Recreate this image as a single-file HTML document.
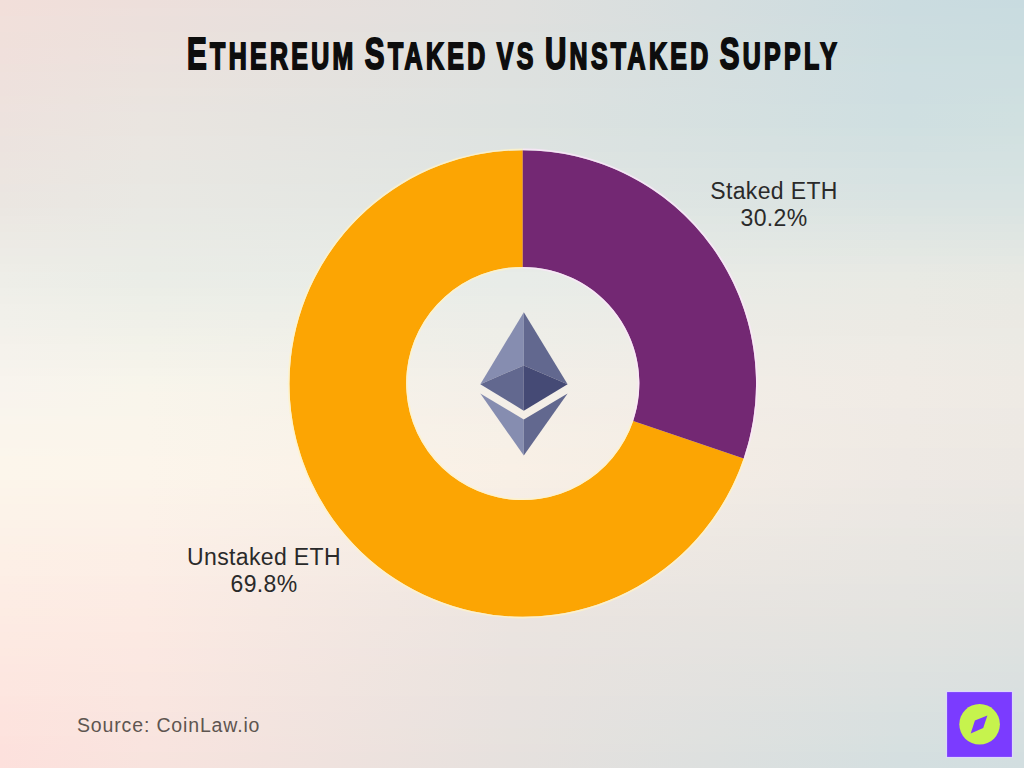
<!DOCTYPE html>
<html>
<head>
<meta charset="utf-8">
<style>
html,body{margin:0;padding:0;}
body{width:1024px;height:768px;overflow:hidden;position:relative;font-family:"Liberation Sans",sans-serif;background:#ebe7e2;}
#bg{position:absolute;left:0;top:0;width:1024px;height:768px;}
#bg div{position:absolute;left:0;width:1024px;height:8px;}
.abs{position:absolute;}
#title{left:0;top:0;width:1024px;height:100px;}
#title .t{position:absolute;left:187px;top:28.5px;transform:scaleX(0.672);word-spacing:-3px;-webkit-text-stroke:2px #0d0d0d;white-space:nowrap;font-weight:bold;color:#0d0d0d;transform-origin:0 0;letter-spacing:5px;}
#title .big{font-size:44px;}
#title .sm{font-size:37px;}
.lbl{position:absolute;font-size:23px;color:#2a2a2a;text-align:center;line-height:27px;letter-spacing:0.35px;white-space:nowrap;}
#src{position:absolute;left:77px;top:714px;font-size:19.5px;color:#5e5550;letter-spacing:0.85px;white-space:nowrap;}
svg{position:absolute;left:0;top:0;}
</style>
</head>
<body>
<div id="bg"><div style="top:0px;background:linear-gradient(to right,#f2dfda 0.00%,#eddfdb 14.16%,#e0e0de 50.00%,#cbdce0 88.38%,#c8dbe0 100.00%)"></div><div style="top:8px;background:linear-gradient(to right,#f2dfda 0.00%,#ede0dc 14.16%,#e0e0de 50.00%,#cbdce0 88.38%,#c9dce0 100.00%)"></div><div style="top:16px;background:linear-gradient(to right,#f1e0db 0.00%,#ece0dc 14.16%,#e0e0de 50.00%,#ccdce0 88.38%,#c9dce0 100.00%)"></div><div style="top:24px;background:linear-gradient(to right,#f1e0db 0.00%,#ece0dc 14.16%,#dfe0de 50.00%,#ccdde0 88.38%,#cadce0 100.00%)"></div><div style="top:32px;background:linear-gradient(to right,#f0e0db 0.00%,#ece1dc 14.16%,#dfe1df 50.00%,#ccdde0 88.38%,#cadce0 100.00%)"></div><div style="top:40px;background:linear-gradient(to right,#f0e0db 0.00%,#ece1dd 14.16%,#dfe1df 50.00%,#ccdde0 88.38%,#cbdde0 100.00%)"></div><div style="top:48px;background:linear-gradient(to right,#f0e0dc 0.00%,#ece2dd 14.16%,#dfe1df 50.00%,#cddde0 88.38%,#cbdde0 100.00%)"></div><div style="top:56px;background:linear-gradient(to right,#f0e0dc 0.00%,#ece2de 14.16%,#dee1df 50.00%,#cddee0 88.38%,#ccdee0 100.00%)"></div><div style="top:64px;background:linear-gradient(to right,#efe1dc 0.00%,#ebe2de 14.16%,#dee1df 50.00%,#cddee1 88.38%,#cddee0 100.00%)"></div><div style="top:72px;background:linear-gradient(to right,#efe1dd 0.00%,#ebe3de 14.16%,#dee1df 50.00%,#cedee1 88.38%,#cddee0 100.00%)"></div><div style="top:80px;background:linear-gradient(to right,#eee1dd 0.00%,#ebe3de 14.16%,#dee1df 50.00%,#cedee1 88.38%,#cedee0 100.00%)"></div><div style="top:88px;background:linear-gradient(to right,#eee1dd 0.00%,#ebe4df 14.16%,#dee2e0 50.00%,#cedee1 88.38%,#cedfe0 100.00%)"></div><div style="top:96px;background:linear-gradient(to right,#eee2dd 0.00%,#eae4df 14.16%,#dee2e0 50.00%,#cedee1 88.38%,#cfdfe0 100.00%)"></div><div style="top:104px;background:linear-gradient(to right,#eee2de 0.00%,#eae4e0 14.16%,#dde2e0 50.00%,#cfdfe1 88.38%,#cfe0e0 100.00%)"></div><div style="top:112px;background:linear-gradient(to right,#ede2de 0.00%,#eae5e0 14.16%,#dde2e0 50.00%,#cfdfe1 88.38%,#d0e0e0 100.00%)"></div><div style="top:120px;background:linear-gradient(to right,#ede2de 0.00%,#eae5e0 14.16%,#dde2e0 50.00%,#cfdfe1 88.38%,#d0e0e0 100.00%)"></div><div style="top:128px;background:linear-gradient(to right,#ede3de 0.00%,#eae5e0 14.16%,#dee3e0 50.00%,#d0e0e1 88.38%,#d1e0e0 100.00%)"></div><div style="top:136px;background:linear-gradient(to right,#ece3df 0.00%,#eae6e1 14.16%,#dee3e1 50.00%,#d2e0e1 88.38%,#d2e1e0 100.00%)"></div><div style="top:144px;background:linear-gradient(to right,#ece3df 0.00%,#eae6e1 14.16%,#dee3e1 50.00%,#d2e0e1 88.38%,#d3e1e1 100.00%)"></div><div style="top:152px;background:linear-gradient(to right,#ece4df 0.00%,#eae6e1 14.16%,#dfe4e1 50.00%,#d4e1e1 88.38%,#d4e1e1 100.00%)"></div><div style="top:160px;background:linear-gradient(to right,#ece4e0 0.00%,#e9e7e2 14.16%,#dfe4e2 50.00%,#d4e1e2 88.38%,#d4e2e1 100.00%)"></div><div style="top:168px;background:linear-gradient(to right,#ece5e0 0.00%,#e9e7e2 14.16%,#e0e5e2 50.00%,#d6e2e2 88.38%,#d5e2e1 100.00%)"></div><div style="top:176px;background:linear-gradient(to right,#ece5e0 0.00%,#e9e7e2 14.16%,#e0e5e2 50.00%,#d6e2e2 88.38%,#d6e2e2 100.00%)"></div><div style="top:184px;background:linear-gradient(to right,#ebe5e1 0.00%,#e9e8e3 14.16%,#e0e5e3 50.00%,#d8e2e2 88.38%,#d7e3e2 100.00%)"></div><div style="top:192px;background:linear-gradient(to right,#ebe6e1 0.00%,#e9e8e3 14.16%,#e1e6e3 50.00%,#d8e3e2 88.38%,#d8e3e2 100.00%)"></div><div style="top:200px;background:linear-gradient(to right,#ebe6e1 0.00%,#e9e8e3 14.16%,#e1e6e3 50.00%,#dae3e2 88.38%,#d9e3e2 100.00%)"></div><div style="top:208px;background:linear-gradient(to right,#ebe7e2 0.00%,#e9e9e4 14.16%,#e2e7e4 50.00%,#dbe4e2 88.38%,#dae4e2 100.00%)"></div><div style="top:216px;background:linear-gradient(to right,#ece8e3 0.00%,#e9e9e4 14.16%,#e3e8e4 50.00%,#dde5e2 88.38%,#dce4e2 100.00%)"></div><div style="top:224px;background:linear-gradient(to right,#ece9e3 0.00%,#e9eae4 14.16%,#e3e8e5 50.00%,#dfe5e3 88.38%,#dee5e2 100.00%)"></div><div style="top:232px;background:linear-gradient(to right,#eceae4 0.00%,#e9eae5 14.16%,#e4e9e5 50.00%,#e0e6e3 88.38%,#dfe6e2 100.00%)"></div><div style="top:240px;background:linear-gradient(to right,#edeae5 0.00%,#eaebe5 14.16%,#e5e9e6 50.00%,#e2e7e3 88.38%,#e1e6e3 100.00%)"></div><div style="top:248px;background:linear-gradient(to right,#edebe6 0.00%,#eaebe6 14.16%,#e6eae6 50.00%,#e3e8e3 88.38%,#e2e7e3 100.00%)"></div><div style="top:256px;background:linear-gradient(to right,#edece6 0.00%,#eaece6 14.16%,#e6eae7 50.00%,#e5e8e4 88.38%,#e4e8e3 100.00%)"></div><div style="top:264px;background:linear-gradient(to right,#eeede7 0.00%,#eaece6 14.16%,#e7ebe7 50.00%,#e7e9e4 88.38%,#e6e8e3 100.00%)"></div><div style="top:272px;background:linear-gradient(to right,#eeeee8 0.00%,#eaede7 14.16%,#e8ece8 50.00%,#e8eae4 88.38%,#e7e9e3 100.00%)"></div><div style="top:280px;background:linear-gradient(to right,#eeeee8 0.00%,#ebede7 14.16%,#e8ece8 50.00%,#e9eae4 88.38%,#e8e9e3 100.00%)"></div><div style="top:288px;background:linear-gradient(to right,#efefe9 0.00%,#eceee7 14.16%,#e9ece8 50.00%,#eaeae4 88.38%,#e9e9e3 100.00%)"></div><div style="top:296px;background:linear-gradient(to right,#f0efe9 0.00%,#edefe8 14.16%,#eaede8 50.00%,#eaeae4 88.38%,#e9e9e3 100.00%)"></div><div style="top:304px;background:linear-gradient(to right,#f1f0ea 0.00%,#eeefe8 14.16%,#ebede8 50.00%,#ebeae4 88.38%,#eae9e3 100.00%)"></div><div style="top:312px;background:linear-gradient(to right,#f1f0ea 0.00%,#eff0e8 14.16%,#ecede8 50.00%,#ebeae4 88.38%,#eae9e3 100.00%)"></div><div style="top:320px;background:linear-gradient(to right,#f2f1eb 0.00%,#f0f0e9 14.16%,#edede8 50.00%,#eceae4 88.38%,#ebe9e3 100.00%)"></div><div style="top:328px;background:linear-gradient(to right,#f3f1eb 0.00%,#f1f1e9 14.16%,#eeeee8 50.00%,#eceae4 88.38%,#ebeae4 100.00%)"></div><div style="top:336px;background:linear-gradient(to right,#f4f1eb 0.00%,#f2f2e9 14.16%,#eeeee8 50.00%,#edebe5 88.38%,#ebeae4 100.00%)"></div><div style="top:344px;background:linear-gradient(to right,#f5f2ec 0.00%,#f3f2ea 14.16%,#efeee8 50.00%,#eeebe5 88.38%,#eceae4 100.00%)"></div><div style="top:352px;background:linear-gradient(to right,#f5f2ec 0.00%,#f4f3ea 14.16%,#f0eee8 50.00%,#eeebe5 88.38%,#eceae4 100.00%)"></div><div style="top:360px;background:linear-gradient(to right,#f6f3ed 0.00%,#f5f3ea 14.16%,#f1eee8 50.00%,#efebe5 88.38%,#edeae4 100.00%)"></div><div style="top:368px;background:linear-gradient(to right,#f7f3ed 0.00%,#f6f4eb 14.16%,#f2efe8 50.00%,#efebe5 88.38%,#edeae4 100.00%)"></div><div style="top:376px;background:linear-gradient(to right,#f8f4ee 0.00%,#f7f5eb 14.16%,#f3efe8 50.00%,#f0ebe5 88.38%,#eeeae4 100.00%)"></div><div style="top:384px;background:linear-gradient(to right,#f8f4ee 0.00%,#f8f5eb 14.16%,#f3efe8 50.00%,#f0ebe5 88.38%,#eeeae4 100.00%)"></div><div style="top:392px;background:linear-gradient(to right,#f9f4ee 0.00%,#f9f5eb 14.16%,#f4efe8 50.00%,#f0ebe5 88.38%,#eeeae4 100.00%)"></div><div style="top:400px;background:linear-gradient(to right,#f9f4ed 0.00%,#f9f5eb 14.16%,#f4efe8 50.00%,#f0ebe5 88.38%,#eeeae4 100.00%)"></div><div style="top:408px;background:linear-gradient(to right,#f9f5ed 0.00%,#f9f5eb 14.16%,#f5efe7 50.00%,#efeae5 88.38%,#ede9e4 100.00%)"></div><div style="top:416px;background:linear-gradient(to right,#faf5ed 0.00%,#faf5eb 14.16%,#f6efe7 50.00%,#efeae5 88.38%,#ede9e4 100.00%)"></div><div style="top:424px;background:linear-gradient(to right,#faf5ec 0.00%,#faf5eb 14.16%,#f6f0e7 50.00%,#efeae4 88.38%,#ede9e3 100.00%)"></div><div style="top:432px;background:linear-gradient(to right,#faf5ec 0.00%,#faf5eb 14.16%,#f7f0e7 50.00%,#efeae4 88.38%,#ede9e3 100.00%)"></div><div style="top:440px;background:linear-gradient(to right,#fbf5ec 0.00%,#fbf5eb 14.16%,#f7f0e7 50.00%,#efeae4 88.38%,#ede9e3 100.00%)"></div><div style="top:448px;background:linear-gradient(to right,#fbf6ec 0.00%,#fbf5eb 14.16%,#f8f0e6 50.00%,#eee9e4 88.38%,#ece8e3 100.00%)"></div><div style="top:456px;background:linear-gradient(to right,#fcf6eb 0.00%,#fcf5eb 14.16%,#f8f0e6 50.00%,#eee9e4 88.38%,#ece8e3 100.00%)"></div><div style="top:464px;background:linear-gradient(to right,#fcf6eb 0.00%,#fcf5eb 14.16%,#f9f0e6 50.00%,#eee9e4 88.38%,#ece8e3 100.00%)"></div><div style="top:472px;background:linear-gradient(to right,#fcf6eb 0.00%,#fcf5eb 14.16%,#f8f0e6 50.00%,#eee9e4 88.38%,#ece8e3 100.00%)"></div><div style="top:480px;background:linear-gradient(to right,#fcf5ea 0.00%,#fcf4ea 14.16%,#f8efe5 50.00%,#ede8e4 88.38%,#ebe7e3 100.00%)"></div><div style="top:488px;background:linear-gradient(to right,#fcf4ea 0.00%,#fcf3ea 14.16%,#f7eee5 50.00%,#ece8e3 88.38%,#eae7e3 100.00%)"></div><div style="top:496px;background:linear-gradient(to right,#fcf4e9 0.00%,#fcf3e9 14.16%,#f6eee5 50.00%,#ece8e3 88.38%,#eae7e2 100.00%)"></div><div style="top:504px;background:linear-gradient(to right,#fcf3e9 0.00%,#fcf2e9 14.16%,#f5ede4 50.00%,#ebe7e3 88.38%,#e9e6e2 100.00%)"></div><div style="top:512px;background:linear-gradient(to right,#fcf3e9 0.00%,#fcf2e9 14.16%,#f5ece4 50.00%,#ebe7e3 88.38%,#e8e6e2 100.00%)"></div><div style="top:520px;background:linear-gradient(to right,#fcf2e8 0.00%,#fcf1e8 14.16%,#f4ece4 50.00%,#eae7e3 88.38%,#e8e6e2 100.00%)"></div><div style="top:528px;background:linear-gradient(to right,#fcf1e8 0.00%,#fcf0e8 14.16%,#f3ebe4 50.00%,#e9e7e2 88.38%,#e7e6e2 100.00%)"></div><div style="top:536px;background:linear-gradient(to right,#fcf1e7 0.00%,#fcf0e7 14.16%,#f2eae3 50.00%,#e9e6e2 88.38%,#e6e5e2 100.00%)"></div><div style="top:544px;background:linear-gradient(to right,#fdf0e7 0.00%,#fcefe7 14.16%,#f2eae3 50.00%,#e8e6e2 88.38%,#e6e5e1 100.00%)"></div><div style="top:552px;background:linear-gradient(to right,#fdf0e6 0.00%,#fcefe6 14.16%,#f1e9e3 50.00%,#e8e6e2 88.38%,#e5e5e1 100.00%)"></div><div style="top:560px;background:linear-gradient(to right,#fdefe6 0.00%,#fceee6 14.16%,#f0e8e2 50.00%,#e7e5e1 88.38%,#e4e4e1 100.00%)"></div><div style="top:568px;background:linear-gradient(to right,#fdefe6 0.00%,#fceee6 14.16%,#efe8e2 50.00%,#e7e5e1 88.38%,#e4e4e1 100.00%)"></div><div style="top:576px;background:linear-gradient(to right,#fdeee5 0.00%,#fcede5 14.16%,#efe7e2 50.00%,#e6e5e1 88.38%,#e3e4e1 100.00%)"></div><div style="top:584px;background:linear-gradient(to right,#fdede5 0.00%,#fcece5 14.16%,#eee7e1 50.00%,#e5e4e1 88.38%,#e3e3e1 100.00%)"></div><div style="top:592px;background:linear-gradient(to right,#fdede4 0.00%,#fcece4 14.16%,#ede6e1 50.00%,#e5e4e1 88.38%,#e2e3e0 100.00%)"></div><div style="top:600px;background:linear-gradient(to right,#fdece4 0.00%,#fcebe4 14.16%,#ece5e1 50.00%,#e4e4e0 88.38%,#e1e3e0 100.00%)"></div><div style="top:608px;background:linear-gradient(to right,#fdece3 0.00%,#fcebe3 14.16%,#ece5e0 50.00%,#e4e3e0 88.38%,#e1e2e0 100.00%)"></div><div style="top:616px;background:linear-gradient(to right,#fdebe3 0.00%,#fceae3 14.16%,#ebe4e0 50.00%,#e3e3e0 88.38%,#e0e2e0 100.00%)"></div><div style="top:624px;background:linear-gradient(to right,#fdeae3 0.00%,#fceae3 14.16%,#ebe4e0 50.00%,#e2e3e0 88.38%,#dfe2e0 100.00%)"></div><div style="top:632px;background:linear-gradient(to right,#fdeae2 0.00%,#fce9e2 14.16%,#eae4e0 50.00%,#e1e3e0 88.38%,#dee2e0 100.00%)"></div><div style="top:640px;background:linear-gradient(to right,#fde9e2 0.00%,#fbe9e2 14.16%,#eae4e0 50.00%,#e1e2e0 88.38%,#dee1e0 100.00%)"></div><div style="top:648px;background:linear-gradient(to right,#fde9e1 0.00%,#fbe8e2 14.16%,#eae3e0 50.00%,#e0e2e0 88.38%,#dde1e0 100.00%)"></div><div style="top:656px;background:linear-gradient(to right,#fde8e1 0.00%,#fbe8e2 14.16%,#eae3df 50.00%,#dfe2e0 88.38%,#dce1e0 100.00%)"></div><div style="top:664px;background:linear-gradient(to right,#fde7e1 0.00%,#fbe8e1 14.16%,#e9e3df 50.00%,#dee2e0 88.38%,#dbe1e0 100.00%)"></div><div style="top:672px;background:linear-gradient(to right,#fde7e0 0.00%,#fae7e1 14.16%,#e9e3df 50.00%,#dde1e0 88.38%,#dbe0e0 100.00%)"></div><div style="top:680px;background:linear-gradient(to right,#fde6e0 0.00%,#fae7e1 14.16%,#e9e3df 50.00%,#dde1e0 88.38%,#dae0e0 100.00%)"></div><div style="top:688px;background:linear-gradient(to right,#fde6e0 0.00%,#fae7e1 14.16%,#e9e3df 50.00%,#dce1e0 88.38%,#d9e0e0 100.00%)"></div><div style="top:696px;background:linear-gradient(to right,#fde5df 0.00%,#fae6e0 14.16%,#e8e2df 50.00%,#dbe1e0 88.38%,#d8e0e0 100.00%)"></div><div style="top:704px;background:linear-gradient(to right,#fde4df 0.00%,#fae6e0 14.16%,#e8e2df 50.00%,#dae1e0 88.38%,#d8e0e0 100.00%)"></div><div style="top:712px;background:linear-gradient(to right,#fde4de 0.00%,#f9e5e0 14.16%,#e8e2df 50.00%,#d9e0e0 88.38%,#d7dfe0 100.00%)"></div><div style="top:720px;background:linear-gradient(to right,#fde3de 0.00%,#f9e5df 14.16%,#e7e2df 50.00%,#d8e0e0 88.38%,#d6dfe0 100.00%)"></div><div style="top:728px;background:linear-gradient(to right,#fde3de 0.00%,#f9e5df 14.16%,#e7e2de 50.00%,#d8e0e0 88.38%,#d5dfe0 100.00%)"></div><div style="top:736px;background:linear-gradient(to right,#fde2dd 0.00%,#f9e4df 14.16%,#e7e2de 50.00%,#d7e0e0 88.38%,#d5dfe0 100.00%)"></div><div style="top:744px;background:linear-gradient(to right,#fde1dd 0.00%,#f9e4df 14.16%,#e7e1de 50.00%,#d6e0e0 88.38%,#d4dfe0 100.00%)"></div><div style="top:752px;background:linear-gradient(to right,#fde1dd 0.00%,#f8e4de 14.16%,#e6e1de 50.00%,#d5dfe0 88.38%,#d3dee0 100.00%)"></div><div style="top:760px;background:linear-gradient(to right,#fde0dc 0.00%,#f8e3de 14.16%,#e6e1de 50.00%,#d4dfe0 88.38%,#d2dee0 100.00%)"></div></div>
<svg width="1024" height="768" viewBox="0 0 1024 768">
  <path d="M 743.71 458.38 A 233.3 233.3 0 1 1 522.75 150.20 L 522.75 266.90 A 116.6 116.6 0 1 0 633.18 420.92 Z" fill="#fca503"/>
  <path d="M 522.75 150.20 A 233.3 233.3 0 0 1 743.71 458.38 L 633.18 420.92 A 116.6 116.6 0 0 0 522.75 266.90 Z" fill="#732873"/>
  <g fill="none" stroke-width="1.6">
  <path d="M 744.47 458.63 A 234.10000000000002 234.10000000000002 0 1 1 522.75 149.40" stroke="#fff2c6" stroke-opacity="0.8"/>
  <path d="M 632.42 420.67 A 115.8 115.8 0 1 1 522.75 267.70" stroke="#fff2c6" stroke-opacity="0.8"/>
  <path d="M 522.75 149.40 A 234.10000000000002 234.10000000000002 0 0 1 744.47 458.63" stroke="#fbe6fa" stroke-opacity="0.8"/>
  <path d="M 522.75 267.70 A 115.8 115.8 0 0 1 632.42 420.67" stroke="#fbe6fa" stroke-opacity="0.8"/>
  </g>
  <!-- ETH logo -->
  <polygon points="523.8,312.3 480.3,384.2 523.8,365.4" fill="#868db0"/>
  <polygon points="523.8,312.3 567.6,384.2 523.8,365.4" fill="#62688f"/>
  <polygon points="480.3,384.2 523.8,365.4 523.8,410.7" fill="#62688f"/>
  <polygon points="567.6,384.2 523.8,365.4 523.8,410.7" fill="#454a75"/>
  <polygon points="480.3,393.5 523.8,419.6 523.8,455.6" fill="#868db0"/>
  <polygon points="567.6,393.5 523.8,419.6 523.8,455.6" fill="#62688f"/>
  <!-- badge -->
  <rect x="946.5" y="691.5" width="66" height="66" fill="#7b3bff" stroke="#ddd6fb" stroke-width="1.2"/>
  <circle cx="979.6" cy="724.3" r="20.3" fill="#c6f34d"/>
  <polygon points="987.4,715.4 983.2,727.9 970.7,733.6 974.9,720.6" fill="#7b3bff"/>
</svg>
<div id="title"><div class="t" id="tt"><span class="big">E</span><span class="sm">THEREUM </span><span class="big">S</span><span class="sm">TAKED VS </span><span class="big">U</span><span class="sm">NSTAKED </span><span class="big">S</span><span class="sm">UPPLY</span></div></div>
<div class="lbl" style="left:674px;top:178px;width:200px;">Staked ETH<br>30.2%</div>
<div class="lbl" style="left:164px;top:544px;width:200px;">Unstaked ETH<br>69.8%</div>
<div id="src">Source: CoinLaw.io</div>
</body>
</html>
